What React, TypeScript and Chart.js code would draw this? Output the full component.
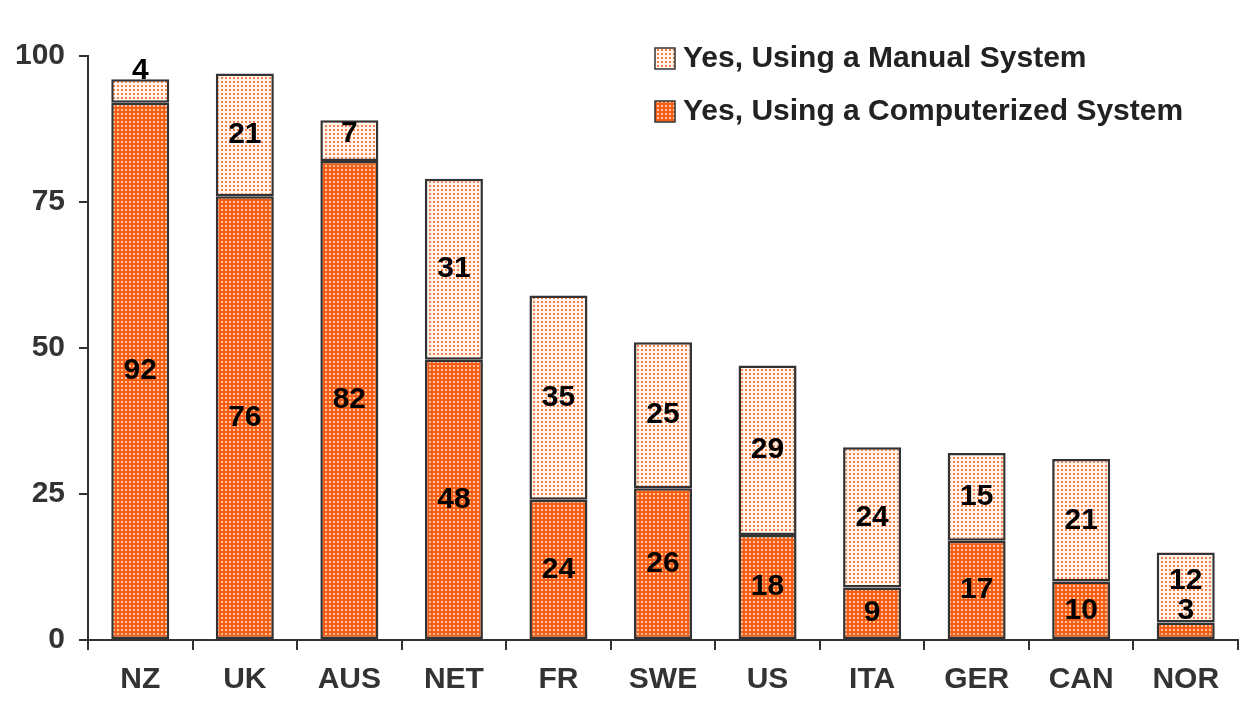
import React, { useEffect, useRef } from "react";
import { Chart, registerables } from "chart.js";

Chart.register(...registerables);

const categories = ["NZ", "UK", "AUS", "NET", "FR", "SWE", "US", "ITA", "GER", "CAN", "NOR"];
const computerized = [92, 76, 82, 48, 24, 26, 18, 9, 17, 10, 3];
const manual = [4, 21, 7, 31, 35, 25, 29, 24, 15, 21, 12];
const yTickValues = [0, 25, 50, 75, 100];
const computerizedName = "Yes, Using a Computerized System";
const manualName = "Yes, Using a Manual System";

const FONT = "'Liberation Sans', Arial, sans-serif";
const DARK = "#333333";

function makePattern(bg: string, dot: string) {
  const c = document.createElement("canvas");
  c.width = 4;
  c.height = 4;
  const g = c.getContext("2d")!;
  g.fillStyle = bg;
  g.fillRect(0, 0, 4, 4);
  g.fillStyle = dot;
  g.fillRect(1, 1, 2, 2);
  return g.createPattern(c, "repeat")!;
}

export default function App() {
  const ref = useRef<HTMLCanvasElement | null>(null);

  useEffect(() => {
    const canvas = ref.current;
    if (!canvas) return;
    const ctx = canvas.getContext("2d")!;
    const compPattern = makePattern("#F25E18", "#FFC49A");
    const manPattern = makePattern("#FFF3EA", "#F2804A");

    const labelPlugin = {
      id: "segLabels",
      afterDatasetsDraw(chart: any) {
        const c = chart.ctx;
        c.save();
        c.font = `bold 30px ${FONT}`;
        c.fillStyle = "#000";
        c.textAlign = "center";
        c.textBaseline = "middle";
        const lastY: number[] = [];
        chart.data.datasets.forEach((ds: any, di: number) => {
          const meta = chart.getDatasetMeta(di);
          meta.data.forEach((bar: any, i: number) => {
            const v = ds.data[i];
            const h = bar.base - bar.y;
            const shift = Math.min(20, Math.max(0, 48 - h));
            let cy = (bar.y + bar.base) / 2 - shift;
            if (lastY[i] !== undefined && lastY[i] - cy < 30) cy = lastY[i] - 30;
            lastY[i] = cy;
            c.fillText(String(v), bar.x, cy);
          });
        });
        c.restore();
      },
    };

    const legendPlugin = {
      id: "customLegend",
      afterDraw(chart: any) {
        const c = chart.ctx;
        c.save();
        const items = [
          { name: manualName, fill: manPattern, y: 58 },
          { name: computerizedName, fill: compPattern, y: 111 },
        ];
        items.forEach((it) => {
          c.fillStyle = it.fill;
          c.fillRect(655, it.y - 10, 20, 21);
          c.strokeStyle = DARK;
          c.lineWidth = 1.5;
          c.strokeRect(655, it.y - 10, 20, 21);
          c.fillStyle = "#222";
          c.font = `bold 30px ${FONT}`;
          c.textAlign = "left";
          c.textBaseline = "middle";
          c.fillText(it.name, 683, it.y + 1);
        });
        c.restore();
      },
    };

    const chart = new Chart(ctx, {
      type: "bar",
      data: {
        labels: categories,
        datasets: [
          {
            label: computerizedName,
            data: computerized,
            backgroundColor: compPattern,
            borderColor: DARK,
            borderWidth: 2.5,
            borderSkipped: false,
            categoryPercentage: 1,
            barPercentage: 0.555,
          },
          {
            label: manualName,
            data: manual,
            backgroundColor: manPattern,
            borderColor: DARK,
            borderWidth: 2.5,
            borderSkipped: false,
            categoryPercentage: 1,
            barPercentage: 0.555,
          },
        ],
      },
      options: {
        animation: false,
        responsive: true,
        maintainAspectRatio: false,
        layout: { padding: { top: 56, right: 8, bottom: 0, left: 0 } },
        plugins: {
          legend: { display: false },
          tooltip: { enabled: false },
        },
        scales: {
          x: {
            stacked: true,
            grid: {
              display: true,
              drawOnChartArea: false,
              drawTicks: true,
              tickLength: 10,
              color: DARK,
              lineWidth: 2,
              offset: true,
            },
            border: { color: DARK, width: 2 },
            ticks: {
              color: DARK,
              font: { family: FONT, weight: "bold", size: 30 },
              padding: 12,
              maxRotation: 0,
            },
            afterFit: (s: any) => {
              s.height = 75;
            },
          },
          y: {
            stacked: true,
            min: 0,
            max: 100,
            afterBuildTicks: (s: any) => {
              s.ticks = yTickValues.map((v) => ({ value: v }));
            },
            grid: {
              display: true,
              drawOnChartArea: false,
              drawTicks: true,
              tickLength: 9,
              color: DARK,
              lineWidth: 2,
            },
            border: { color: DARK, width: 2 },
            ticks: {
              color: DARK,
              font: { family: FONT, weight: "bold", size: 30 },
              padding: 14,
            },
            afterFit: (s: any) => {
              s.width = 88;
            },
          },
        },
      },
      plugins: [labelPlugin, legendPlugin],
    });
    return () => chart.destroy();
  }, []);

  return (
    <div style={{ position: "fixed", left: 0, top: 0, width: 1246, height: 715, background: "#fff" }}>
      <canvas ref={ref} />
    </div>
  );
}
